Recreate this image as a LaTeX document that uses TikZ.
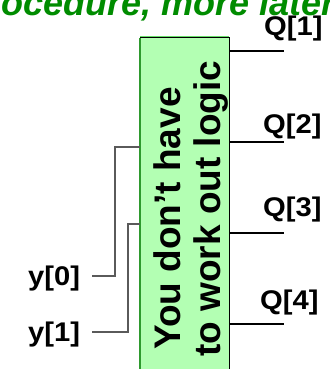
\documentclass[tikz,border=0pt]{standalone}
\usepackage{fontspec}
\setmainfont{Liberation Sans}
\usepackage{xcolor}
\definecolor{ttlgreen}{HTML}{008C00}
\definecolor{boxfill}{HTML}{B3FFB3}
\definecolor{boxedge}{HTML}{2E9A2E}
\definecolor{boxglow}{HTML}{66DD66}
\definecolor{wiregray}{HTML}{5A5A5A}
\usepackage{tikz}
\usetikzlibrary{positioning, calc}
\tikzset{
    title/.style = {inner sep=0pt, anchor=base west, text=ttlgreen,
                    font=\fontsize{36}{38}\selectfont\bfseries\itshape},
    pin/.style   = {inner sep=0pt, anchor=base west, xscale=1.08,
                    font=\fontsize{27}{29}\selectfont\bfseries},
    note/.style  = {inner sep=0pt, anchor=base west, rotate=90,
                    font=\fontsize{37}{40}\selectfont\bfseries},
    outwire/.style = {line width=2pt, black},
    inwire/.style  = {line width=1.2pt, wiregray},
}

\begin{document}
\begin{tikzpicture}[x=1pt, y=-1pt]
    \useasboundingbox (0,0) rectangle (329,369);
    \clip (0,0) rectangle (329,369);
    % heading running off the page
    \node[title] (heading) at (1,16) {ocedure, more later};
    % the logic block
    \node[fill=boxfill, minimum width=89pt, minimum height=337pt, inner sep=0pt]
          (logic) at (184.5,206.5) {};
    \draw[boxglow, line width=1pt] (logic.north west) ++(0,-1.2) -- ++(89,0);
    \draw[black, line width=1pt] (logic.north west) -- (logic.north east) -- (logic.south east);
    \draw[boxedge, line width=2pt] (logic.north west) -- (logic.south west);
    \node[note] (line1) at (180,350) {You don’t have};
    \node[note] (line2) at (220,357) {to work out logic};
    % outputs
    \foreach \i/\yy/\lx/\by in {1/51/264/36, 2/142/263/133, 3/233/263/216, 4/324/260/309} {
        \coordinate (qend\i) at (284,\yy);
        \draw[outwire] (logic.east |- qend\i) -- (qend\i);
        \node[pin] (q\i) at (\lx,\by) {Q[\i]};
    }
    % inputs
    \node[pin] (y0) at (28,285) {y[0]};
    \node[pin] (y1) at (28,341) {y[1]};
    \coordinate (y0in) at (92,276);
    \coordinate (y1in) at (92,332);
    \draw[inwire] (y0in) -| (115,147) -- (logic.west |- 0,147);
    \draw[inwire] (y1in) -| (128,224) -- (logic.west |- 0,224);
\end{tikzpicture}
\end{document}
